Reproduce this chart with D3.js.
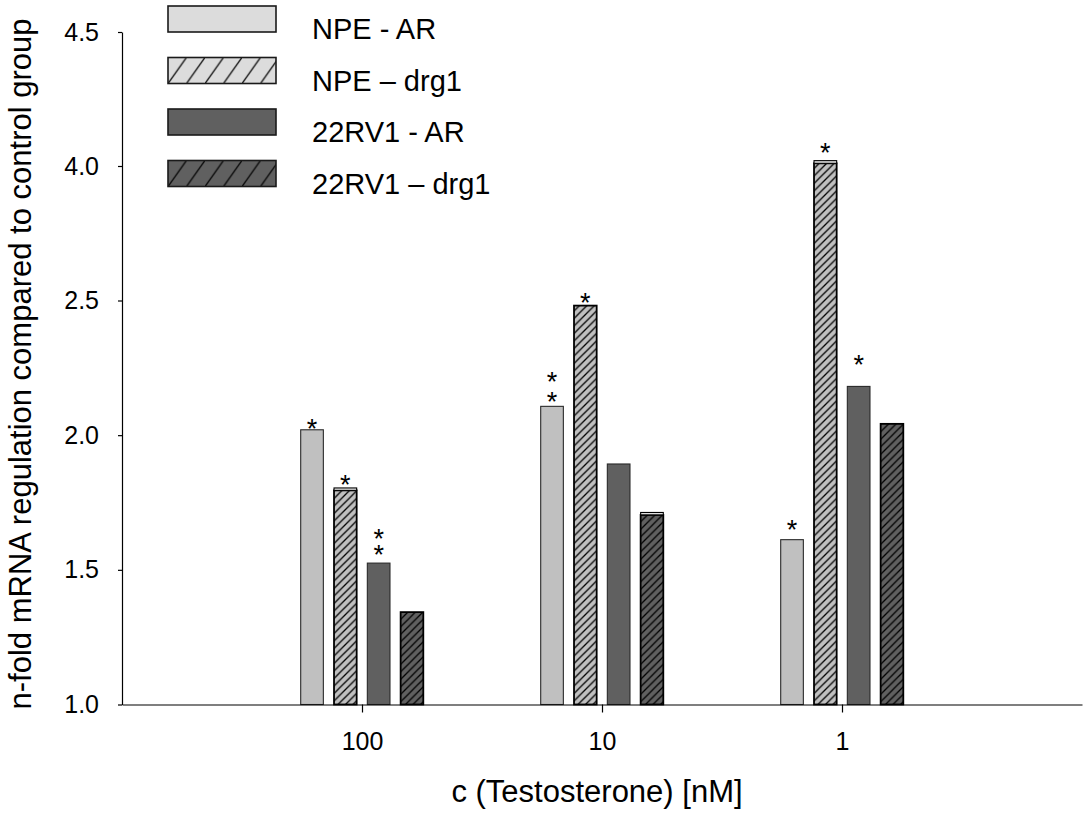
<!DOCTYPE html>
<html>
<head>
<meta charset="utf-8">
<script src="https://cdn.jsdelivr.net/npm/d3@7"></script>
<style>
  html, body { margin: 0; padding: 0; background: #fff; }
  svg { display: block; font-family: "Liberation Sans", Arial, Helvetica, sans-serif; }
</style>
</head>
<body>
<svg id="chart" width="1083" height="820"></svg>
<script>
// Testosterone concentrations (nM) on the x axis
const concentrations = ["100", "10", "1"];
// Series: cell line and gene
const seriesNames = ["NPE - AR", "NPE \u2013 drg1", "22RV1 - AR", "22RV1 \u2013 drg1"];
// n-fold regulation, one array per series, in the order of concentrations
const npeAR     = [2.02, 2.107, 1.612];
const npeDrg1   = [1.795, 2.481, 4.01];
const rv1AR     = [1.525, 1.893, 2.181];
const rv1Drg1   = [1.343, 1.704, 2.042];
// small upper error bars (0 where none is drawn)
const npeARErr   = [0, 0, 0];
const npeDrg1Err = [0.009, 0, 0.01];
const rv1ARErr   = [0, 0, 0];
const rv1Drg1Err = [0, 0.009, 0];
// y tick values (the axis is broken between 2.5 and 4.0)
const yTicks = [1.0, 1.5, 2.0, 2.5, 4.0, 4.5];
// significance marks: concentration, series index, level of the asterisk
const starConc   = ["100", "100", "100", "100", "10", "10", "10", "1", "1", "1"];
const starSeries = [0, 1, 2, 2, 0, 0, 1, 0, 1, 2];
const starLevel  = [2.046, 1.838, 1.638, 1.578, 2.219, 2.147, 2.542, 1.671, 4.072, 2.281];

const seriesValues = [npeAR, npeDrg1, rv1AR, rv1Drg1];
const seriesErrors = [npeARErr, npeDrg1Err, rv1ARErr, rv1Drg1Err];
const hatched = [false, true, false, true];
const baseColor = ["#c0c0c0", "#c0c0c0", "#606060", "#606060"];
const legendColor = ["#dcdcdc", "#dcdcdc", "#606060", "#606060"];

const svg = d3.select("#chart");
const defs = svg.append("defs");

// scales
const x = d3.scalePoint().domain(concentrations).range([122, 1082]).padding(1);
const xInner = d3.scaleBand().domain(d3.range(4)).range([-61.3, 61.3]).paddingInner(0.32).paddingOuter(0);
const y = d3.scaleLinear().domain([1.0, 2.5, 4.0, 4.5]).range([704.5, 300.5, 166, 32]);

// hatch patterns for bars
[0, 1, 2, 3].forEach(i => {
  if (!hatched[i]) return;
  const p = defs.append("pattern")
    .attr("id", "hatch" + i)
    .attr("patternUnits", "userSpaceOnUse")
    .attr("width", 7.5).attr("height", 7.5);
  p.append("rect").attr("width", 7.5).attr("height", 7.5).attr("fill", baseColor[i]);
  p.append("path")
    .attr("d", "M-2,2 L2,-2 M0,7.5 L7.5,0 M5.5,9.5 L9.5,5.5")
    .attr("stroke", "#000").attr("stroke-width", 1.3);
});

// bars
const rows = [];
concentrations.forEach((c, ci) => {
  seriesValues.forEach((vals, si) => {
    rows.push({ c, si, v: vals[ci], e: seriesErrors[si][ci] });
  });
});

const gBars = svg.append("g");
gBars.selectAll("rect.bar")
  .data(rows)
  .join("rect")
  .attr("class", "bar")
  .attr("x", d => x(d.c) + xInner(d.si))
  .attr("width", xInner.bandwidth())
  .attr("y", d => y(d.v))
  .attr("height", d => y(1.0) - y(d.v))
  .attr("fill", d => hatched[d.si] ? `url(#hatch${d.si})` : baseColor[d.si])
  .attr("stroke", d => hatched[d.si] ? "#000" : "#2a2a2a")
  .attr("stroke-width", d => hatched[d.si] ? 1.8 : 1.1);

// upper error bars
gBars.selectAll("rect.err")
  .data(rows.filter(d => d.e > 0))
  .join("rect")
  .attr("class", "err")
  .attr("x", d => x(d.c) + xInner(d.si))
  .attr("width", xInner.bandwidth())
  .attr("y", d => y(d.v + d.e))
  .attr("height", d => y(d.v) - y(d.v + d.e))
  .attr("fill", "#e2e2e2")
  .attr("stroke", "#000")
  .attr("stroke-width", 1.1);

// significance asterisks, one text per bar (stacked marks as tspans)
const starGroups = d3.groups(
  starLevel.map((lv, i) => ({ c: starConc[i], si: starSeries[i], lv })),
  d => d.c + "|" + d.si
);
const starText = svg.append("g").selectAll("text")
  .data(starGroups)
  .join("text")
  .attr("text-anchor", "middle")
  .attr("font-size", 27)
  .attr("fill", "#000");
starText.selectAll("tspan")
  .data(d => d[1])
  .join("tspan")
  .attr("x", d => x(d.c) + xInner(d.si) + xInner.bandwidth() / 2)
  .attr("y", d => y(d.lv) + 15)
  .text("*");

// y axis
const yAxis = svg.append("g")
  .attr("transform", "translate(122,0)")
  .call(d3.axisLeft(y).tickValues(yTicks).tickFormat(d3.format(".1f"))
    .tickSize(4).tickSizeOuter(0).tickPadding(19));
yAxis.selectAll("text").attr("font-size", 25).attr("fill", "#000")
  .attr("font-family", "Liberation Sans, Arial, sans-serif");
yAxis.selectAll("line,path").attr("stroke", "#000").attr("stroke-width", 1.2);

// x axis
const xAxis = svg.append("g")
  .attr("transform", `translate(0,${y(1.0)})`)
  .call(d3.axisBottom(x).tickSize(8).tickSizeOuter(0).tickPadding(20));
xAxis.selectAll("text").attr("font-size", 25).attr("fill", "#000")
  .attr("font-family", "Liberation Sans, Arial, sans-serif");
xAxis.selectAll("line,path").attr("stroke", "#000").attr("stroke-width", 1.2);

// axis titles
svg.append("text")
  .attr("transform", "translate(30.5,364) rotate(-90)")
  .attr("text-anchor", "middle")
  .attr("font-size", 31)
  .attr("fill", "#000")
  .text("n-fold mRNA regulation compared to control group");

svg.append("text")
  .attr("x", 597).attr("y", 802)
  .attr("text-anchor", "middle")
  .attr("font-size", 31)
  .attr("fill", "#000")
  .text("c (Testosterone) [nM]");

// legend
const legendTop = d3.scaleLinear().domain([0, 3]).range([6, 160.5]);
const swW = 108, swH = 26, swX = 168;
seriesNames.forEach((name, i) => {
  const top = legendTop(i);
  let fill = legendColor[i];
  if (hatched[i]) {
    const p = defs.append("pattern")
      .attr("id", "lhatch" + i)
      .attr("patternUnits", "userSpaceOnUse")
      .attr("x", swX).attr("y", top)
      .attr("width", 18.5).attr("height", swH);
    p.append("rect").attr("width", 18.5).attr("height", swH).attr("fill", legendColor[i]);
    p.append("path")
      .attr("d", `M0,${swH} L18.5,0`)
      .attr("stroke", "#000").attr("stroke-width", 1.3);
    fill = `url(#lhatch${i})`;
  }
  svg.append("rect")
    .attr("x", swX).attr("y", top)
    .attr("width", swW).attr("height", swH)
    .attr("fill", fill)
    .attr("stroke", "#1a1a1a").attr("stroke-width", 1.6);
  svg.append("text")
    .attr("x", 312).attr("y", top + 33)
    .attr("font-size", 29)
    .attr("fill", "#000")
    .text(name);
});
</script>
</body>
</html>
